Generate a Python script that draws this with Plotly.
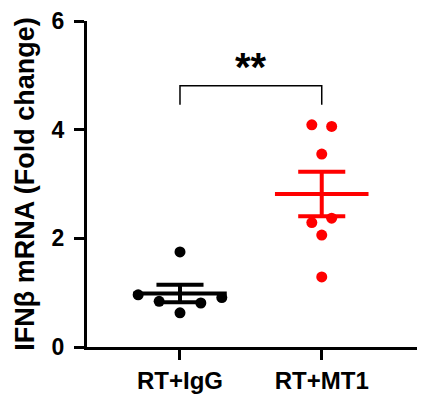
import numpy as np
import plotly.graph_objects as go

# ---- data ----
groups = ["RT+IgG", "RT+MT1"]
igg_values = [1.75, 0.96, 0.84, 0.63, 0.81, 0.91]
mt1_values = [4.09, 4.06, 3.55, 2.29, 2.37, 2.06, 1.29]
y_ticks = [0, 2, 4, 6]
significance = "**"

# ---- layout helpers (not data) ----
igg_jitter = [0.0, -0.295, -0.147, 0.0, 0.147, 0.295]
mt1_jitter = [-0.07, 0.07, 0.0, -0.07, 0.07, 0.0, 0.0]
colors = ["#000000", "#FF0000"]
mean_half = 0.33
cap_half = 0.166
bracket_low, bracket_high, star_y = 4.46, 4.81, 4.71

font_family = "Liberation Sans, Arial, sans-serif"

fig = go.Figure()

series = [igg_values, mt1_values]
jitters = [igg_jitter, mt1_jitter]
for i, (vals, jit, col) in enumerate(zip(series, jitters, colors)):
    v = np.array(vals, dtype=float)
    fig.add_trace(go.Scatter(
        x=[i + j for j in jit], y=v, mode="markers",
        marker=dict(color=col, size=11, line=dict(width=0)),
        showlegend=False, hoverinfo="y"))
    m = v.mean()
    s = v.std(ddof=1) / np.sqrt(len(v))
    # mean line
    fig.add_trace(go.Scatter(
        x=[i - mean_half, i + mean_half], y=[m, m], mode="lines",
        line=dict(color=col, width=4), showlegend=False, hoverinfo="skip"))
    # SEM bars
    fig.add_trace(go.Scatter(
        x=[i - cap_half, i + cap_half, None, i, i, None, i - cap_half, i + cap_half],
        y=[m + s, m + s, None, m + s, m - s, None, m - s, m - s],
        mode="lines", line=dict(color=col, width=4),
        showlegend=False, hoverinfo="skip"))

# significance bracket
fig.add_trace(go.Scatter(
    x=[0, 0, 1, 1], y=[bracket_low, bracket_high, bracket_high, bracket_low],
    mode="lines", line=dict(color="#000000", width=1.5),
    showlegend=False, hoverinfo="skip"))
fig.add_annotation(x=0.5, y=star_y, text=significance, showarrow=False,
                   yanchor="bottom",
                   font=dict(family=font_family, size=40, color="#000000", weight="bold"))

fig.update_layout(
    width=425, height=402,
    margin=dict(l=87, r=8, t=16, b=51),
    paper_bgcolor="white", plot_bgcolor="white",
    font=dict(family=font_family, color="#000000", weight="bold"),
    xaxis=dict(
        range=[-0.656, 1.672], tickmode="array",
        tickvals=list(range(len(groups))), ticktext=groups,
        showgrid=False, zeroline=False, showline=True,
        linecolor="#000000", linewidth=3,
        ticks="outside", ticklen=10, tickwidth=3, tickcolor="#000000",
        tickfont=dict(size=24, family=font_family, weight="bold"),
    ),
    yaxis=dict(
        range=[0, 6], tickmode="array", tickvals=y_ticks,
        showgrid=False, zeroline=False, showline=True,
        linecolor="#000000", linewidth=3,
        ticks="outside", ticklen=10, tickwidth=3, tickcolor="#000000",
        ticklabelstandoff=5,
        tickfont=dict(size=23, family=font_family, weight="bold"),
        title=dict(text="IFNβ mRNA (Fold change)", standoff=10,
                   font=dict(size=27, family=font_family, weight="bold")),
    ),
)

fig.write_html("out.html")
